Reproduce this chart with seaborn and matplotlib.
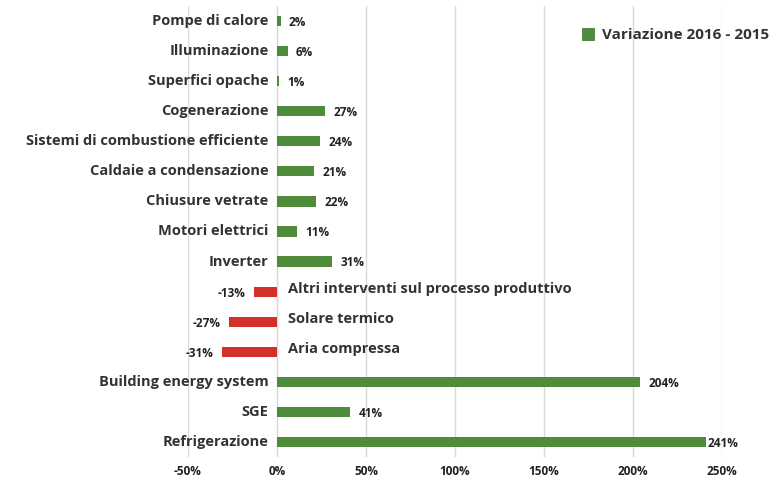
import pandas as pd
import seaborn as sns
import matplotlib.pyplot as plt
from matplotlib.patches import Patch

# Data
categories = ['Pompe di calore', 'Illuminazione', 'Superfici opache', 'Cogenerazione',
              'Sistemi di combustione efficiente', 'Caldaie a condensazione',
              'Chiusure vetrate', 'Motori elettrici', 'Inverter',
              'Altri interventi sul processo produttivo', 'Solare termico',
              'Aria compressa', 'Building energy system', 'SGE', 'Refrigerazione']
variation = [2, 6, 1, 27, 24, 21, 22, 11, 31, -13, -27, -31, 204, 41, 241]
x_ticks = [-50, 0, 50, 100, 150, 200, 250]
legend_label = 'Variazione 2016 - 2015'

green = '#4e8c3c'
red = '#d3302a'

df = pd.DataFrame({'cat': categories, 'val': variation})
colors = [green if v >= 0 else red for v in variation]

sns.set_style('white')
plt.rcParams['font.family'] = ['Open Sans', 'DejaVu Sans']

fig = plt.figure(figsize=(7.8, 4.83), dpi=100)
ax = fig.add_axes([188 / 780, 1 - 457 / 483, (722 - 188) / 780, (457 - 6) / 483])

sns.barplot(data=df, x='val', y='cat', hue='cat', palette=colors, legend=False,
            orient='h', width=0.34, dodge=False, linewidth=0, saturation=1,
            ax=ax, zorder=3)

ax.set_xlim(-50, 250)
ax.set_xticks(x_ticks)
ax.set_xticklabels([f'{t}%' for t in x_ticks], fontsize=8.5, fontweight='bold', color='#222222')
ax.tick_params(axis='x', length=0, pad=6)
ax.set_yticks([])
ax.set_xlabel('')
ax.set_ylabel('')
ax.grid(axis='x', color='#d9d9d9', linewidth=1, zorder=0)
for s in ax.spines.values():
    s.set_visible(False)

for i, v in enumerate(variation):
    if v >= 0:
        ax.annotate(categories[i], (0, i), xytext=(-6, 0), textcoords='offset points',
                    ha='right', va='center', fontsize=10.5, fontweight='bold', color='#333333')
        off = 1 if v > 230 else 6
        ax.annotate(f'{v}%', (v, i), xytext=(off, -1), textcoords='offset points',
                    ha='left', va='center', fontsize=8.5, fontweight='bold', color='#222222')
    else:
        ax.annotate(categories[i], (0, i), xytext=(8, 2), textcoords='offset points',
                    ha='left', va='center', fontsize=10.5, fontweight='bold', color='#333333')
        ax.annotate(f'{v}%', (v, i), xytext=(-6, -1), textcoords='offset points',
                    ha='right', va='center', fontsize=8.5, fontweight='bold', color='#222222')

handle = Patch(facecolor=green, edgecolor='#3c6e2c', linewidth=0.5)
leg = ax.legend([handle], [legend_label], loc='upper left', bbox_to_anchor=(576 / 780, 1 - 22 / 483),
                bbox_transform=fig.transFigure, frameon=False, fontsize=11,
                handlelength=0.8, handleheight=0.8, handletextpad=0.5, borderaxespad=0)
for t in leg.get_texts():
    t.set_color('#333333')
    t.set_fontweight('bold')

fig.savefig('out.png', dpi=100)
